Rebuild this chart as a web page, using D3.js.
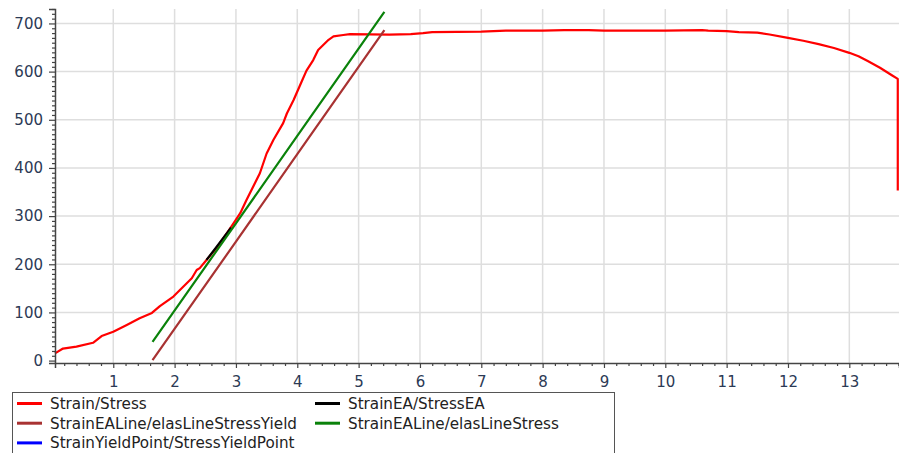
<!DOCTYPE html>
<html>
<head>
<meta charset="utf-8">
<script src="https://cdn.jsdelivr.net/npm/d3@7"></script>
<style>
  html, body { margin: 0; padding: 0; background: #fff; }
  svg { display: block; }
  .tick text { font-family: "DejaVu Sans", sans-serif; font-size: 15px; fill: #2c3a55; }
  .legend text { font-family: "DejaVu Sans", sans-serif; font-size: 15.2px; fill: #222; }
</style>
</head>
<body>
<svg id="chart" width="899" height="453"></svg>
<script>
// Strain/Stress curve
const strain = [0.05, 0.18, 0.40, 0.67, 0.81, 1.00, 1.22, 1.43, 1.63, 1.76, 1.98, 2.28, 2.36, 2.41, 2.52, 2.68,
  2.85, 2.96, 3.07, 3.17, 3.39, 3.50, 3.61, 3.77, 3.83, 3.94, 4.07, 4.15, 4.26, 4.34, 4.51, 4.59, 4.75, 4.86,
  5.50, 5.85, 6.05, 6.20, 7.00, 7.40, 8.00, 8.35, 8.60, 8.75, 9.00, 10.00, 10.60, 10.70, 11.00, 11.20, 11.50,
  11.70, 12.00, 12.25, 12.50, 12.75, 13.00, 13.15, 13.30, 13.50, 13.70, 13.79, 13.79];
const stress = [15, 25, 29, 37, 51, 60, 74, 88, 99, 113, 133, 171, 188, 192, 209, 233,
  264, 285, 306, 333, 389, 430, 458, 493, 513, 541, 579, 602, 624, 645, 666, 673, 676, 678,
  677, 678, 680, 682, 683, 685, 685, 686, 686, 686, 685, 685, 686, 685, 684, 682, 681,
  677, 670, 664, 657, 649, 639, 632, 622, 608, 592, 585, 353];

// StrainEA/StressEA (short black segment)
const strainEA = [2.52, 2.72, 2.92];
const stressEA = [209, 242, 276];

// StrainEALine/elasLineStressYield (brown)
const strainYieldLine = [1.64, 3.00, 4.20, 5.42];
const stressYieldLine = [1, 247, 465, 686];

// StrainEALine/elasLineStress (green)
const strainElasLine = [1.64, 3.00, 4.20, 5.42];
const stressElasLine = [39, 285, 503, 724];

// StrainYieldPoint/StressYieldPoint (not visible)
const strainYieldPt = [];
const stressYieldPt = [];

const xTicks = [1, 2, 3, 4, 5, 6, 7, 8, 9, 10, 11, 12, 13];
const yTicks = [0, 100, 200, 300, 400, 500, 600, 700];

const legendNames = ['Strain/Stress', 'StrainEA/StressEA', 'StrainEALine/elasLineStressYield',
  'StrainEALine/elasLineStress', 'StrainYieldPoint/StressYieldPoint'];
const legendColors = ['#ff0000', '#000000', '#a83232', '#0a820a', '#0000ff'];

const svg = d3.select('#chart');
const x = d3.scaleLinear().domain([0.05, 13.81]).range([55, 899]);
const y = d3.scaleLinear().domain([-5, 730]).range([363, 9]);

// grid
svg.append('g').selectAll('line').data(xTicks).enter().append('line')
  .attr('x1', d => x(d)).attr('x2', d => x(d)).attr('y1', 9).attr('y2', 363)
  .attr('stroke', '#dedede').attr('stroke-width', 1.5);
svg.append('g').selectAll('line').data(yTicks.slice(1)).enter().append('line')
  .attr('x1', 55).attr('x2', 899).attr('y1', d => y(d)).attr('y2', d => y(d))
  .attr('stroke', '#dedede').attr('stroke-width', 1.5);

const toPts = (xs, ys) => xs.map((v, i) => [v, ys[i]]);
const line = d3.line().x(d => x(d[0])).y(d => y(d[1]));

const series = [
  [toPts(strain, stress), legendColors[0]],
  [toPts(strainEA, stressEA), legendColors[1]],
  [toPts(strainYieldLine, stressYieldLine), legendColors[2]],
  [toPts(strainElasLine, stressElasLine), legendColors[3]],
  [toPts(strainYieldPt, stressYieldPt), legendColors[4]]
];
series.forEach(([pts, col]) => {
  if (!pts.length) return;
  svg.append('path').datum(pts)
    .attr('fill', 'none').attr('stroke', col).attr('stroke-width', 2.2)
    .attr('stroke-linejoin', 'round').attr('d', line);
});

// axes
const xAxis = svg.append('g').attr('transform', 'translate(0,363)')
  .call(d3.axisBottom(x).tickValues(xTicks).tickSize(5).tickFormat(d3.format('d')));
svg.append('g').attr('transform', 'translate(0,363)')
  .call(d3.axisBottom(x).tickValues(d3.range(0.2, 13.81, 0.2).filter(v => Math.abs(v - Math.round(v)) > 0.01))
    .tickSize(3).tickFormat(''))
  .call(g => g.select('.domain').remove());
const yAxis = svg.append('g').attr('transform', 'translate(55,0)')
  .call(d3.axisLeft(y).tickValues(yTicks).tickSize(6));
svg.append('g').attr('transform', 'translate(55,0)')
  .call(d3.axisLeft(y).tickValues(d3.range(0, 731, 10).filter(v => v % 100 !== 0)).tickSize(3).tickFormat(''))
  .call(g => g.select('.domain').remove());

svg.selectAll('.domain').attr('stroke', '#444').attr('stroke-width', 1.5);
svg.selectAll('.tick line').attr('stroke', '#444').attr('stroke-width', 1.2);
xAxis.selectAll('.tick text').attr('dy', '1.05em');
yAxis.selectAll('.tick text').attr('x', -12);

// legend
const legend = svg.append('g').attr('class', 'legend');
legend.append('rect').attr('x', 12.5).attr('y', 392.5).attr('width', 602).attr('height', 70)
  .attr('fill', '#fff').attr('stroke', '#555').attr('stroke-width', 1);
const item = legend.selectAll('g.item').data(legendNames).enter().append('g')
  .attr('transform', (d, i) => `translate(${i % 2 === 0 ? 17 : 315},${403.5 + Math.floor(i / 2) * 19.7})`);
item.append('line').attr('x1', 0).attr('x2', 25).attr('stroke-width', 3)
  .attr('stroke', (d, i) => legendColors[i]);
item.append('text').attr('x', 33).attr('dy', '0.35em').text(d => d);
</script>
</body>
</html>
